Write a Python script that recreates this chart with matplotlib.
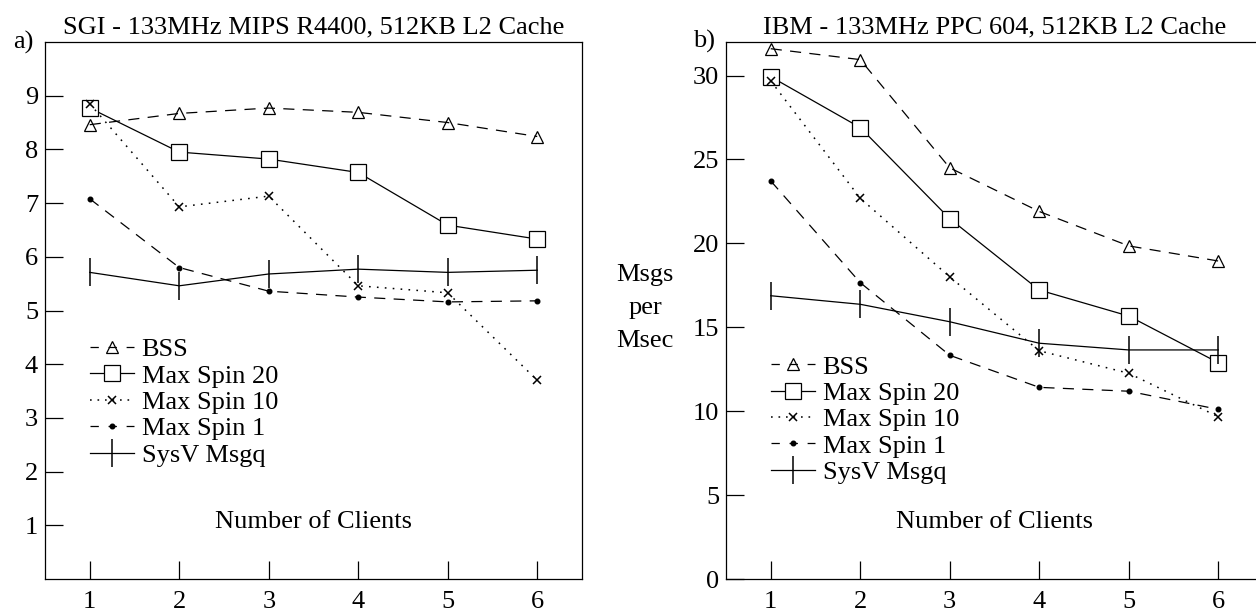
import matplotlib
matplotlib.use("Agg")
import matplotlib.pyplot as plt

plt.rcParams['font.family'] = ['Liberation Serif', 'DejaVu Serif']
plt.rcParams['lines.scale_dashes'] = False

clients = [1, 2, 3, 4, 5, 6]

# Panel a) SGI
sgi_bss = [8.46, 8.67, 8.77, 8.69, 8.50, 8.24]
sgi_spin20 = [8.77, 7.95, 7.82, 7.57, 6.59, 6.33]
sgi_spin10 = [8.85, 6.93, 7.13, 5.46, 5.33, 3.70]
sgi_spin1 = [7.08, 5.80, 5.36, 5.25, 5.16, 5.18]
sgi_sysv = [5.71, 5.46, 5.68, 5.77, 5.71, 5.75]

# Panel b) IBM
ibm_bss = [31.6, 30.95, 24.5, 21.9, 19.85, 18.95]
ibm_spin20 = [29.93, 26.9, 21.47, 17.22, 15.67, 12.89]
ibm_spin10 = [29.68, 22.69, 18.0, 13.6, 12.26, 9.67]
ibm_spin1 = [23.72, 17.66, 13.33, 11.42, 11.19, 10.11]
ibm_sysv = [16.88, 16.37, 15.33, 14.05, 13.65, 13.65]

labels = ["BSS", "Max Spin 20", "Max Spin 10", "Max Spin 1", "SysV Msgq"]
sgi_yticks = [1, 2, 3, 4, 5, 6, 7, 8, 9]
ibm_yticks = [0, 5, 10, 15, 20, 25, 30]

W, H = 1256, 613
fig = plt.figure(figsize=(W / 100, H / 100), dpi=100)

FS = 19
lw = 0.9
dash = (0, (8, 6))
dots = (0, (1.2, 4.5))


def draw(ax, series, yticks, ylim, title, legend_anchor):
    bss, s20, s10, s1, sysv = series
    ax.plot(clients, bss, color='black', lw=lw, linestyle=dash, marker='^',
            markersize=8, markerfacecolor='none', markeredgewidth=0.9, label=labels[0])
    ax.plot(clients, s20, color='black', lw=lw, linestyle='-', marker='s',
            markersize=11.5, markerfacecolor='white', markeredgewidth=0.9, label=labels[1])
    ax.plot(clients, s10, color='black', lw=1.1, linestyle=dots, marker='x',
            markersize=5.5, markeredgewidth=1.1, label=labels[2])
    ax.plot(clients, s1, color='black', lw=lw, linestyle=dash, marker='o',
            markersize=3.3, label=labels[3])
    ax.plot(clients, sysv, color='black', lw=lw, linestyle='-', marker='|',
            markersize=20, markeredgewidth=1.1, label=labels[4])
    ax.set_xlim(0.5, 6.5)
    ax.set_ylim(*ylim)
    ax.set_xticks(clients)
    ax.set_yticks(yticks)
    ax.tick_params(axis='x', direction='in', length=13, width=0.9, pad=9,
                   labelsize=FS, top=False)
    ax.tick_params(axis='y', direction='in', length=13, width=0.9, pad=5,
                   labelsize=FS, right=False)
    for s in ax.spines.values():
        s.set_linewidth(0.9)
    ax.set_title(title, fontsize=FS, pad=6)
    ax.text(3.5, 0.106, "Number of Clients", transform=ax.get_xaxis_transform(),
            ha='center', va='center', fontsize=FS)
    leg = ax.legend(loc='upper left', bbox_to_anchor=legend_anchor, frameon=False,
                    fontsize=FS, handlelength=1.68, handletextpad=0.29,
                    labelspacing=0.11, borderpad=0, borderaxespad=0, numpoints=1)
    hl = leg.get_lines()
    hl[0].set_linestyle((0, (6, 7)))
    hl[3].set_linestyle((0, (6, 7)))
    hl[2].set_linestyle((0, (1.2, 4.2)))


# both panels: 537 px square boxes, x from 45 (left) and 726 (right)
ax1 = fig.add_axes([45 / W, 1 - 579 / H, 537 / W, 537 / H])
draw(ax1, [sgi_bss, sgi_spin20, sgi_spin10, sgi_spin1, sgi_sysv], sgi_yticks,
     (0, 10), "SGI - 133MHz MIPS R4400, 512KB L2 Cache", (0.083, 0.449))

ax2 = fig.add_axes([726 / W, 1 - 579 / H, 537 / W, 537 / H])
draw(ax2, [ibm_bss, ibm_spin20, ibm_spin10, ibm_spin1, ibm_sysv], ibm_yticks,
     (0, 32), "IBM - 133MHz PPC 604, 512KB L2 Cache", (0.083, 0.417))
ax2.spines['right'].set_visible(False)

fig.text(23 / W, 1 - 42 / H, "a)", ha='center', va='center', fontsize=FS)
fig.text(704 / W, 1 - 41 / H, "b)", ha='center', va='center', fontsize=FS)
fig.text(645 / W, 1 - 308 / H, "Msgs\nper\nMsec", ha='center', va='center',
         fontsize=FS, linespacing=1.62)

fig.savefig("out.png", dpi=100)
